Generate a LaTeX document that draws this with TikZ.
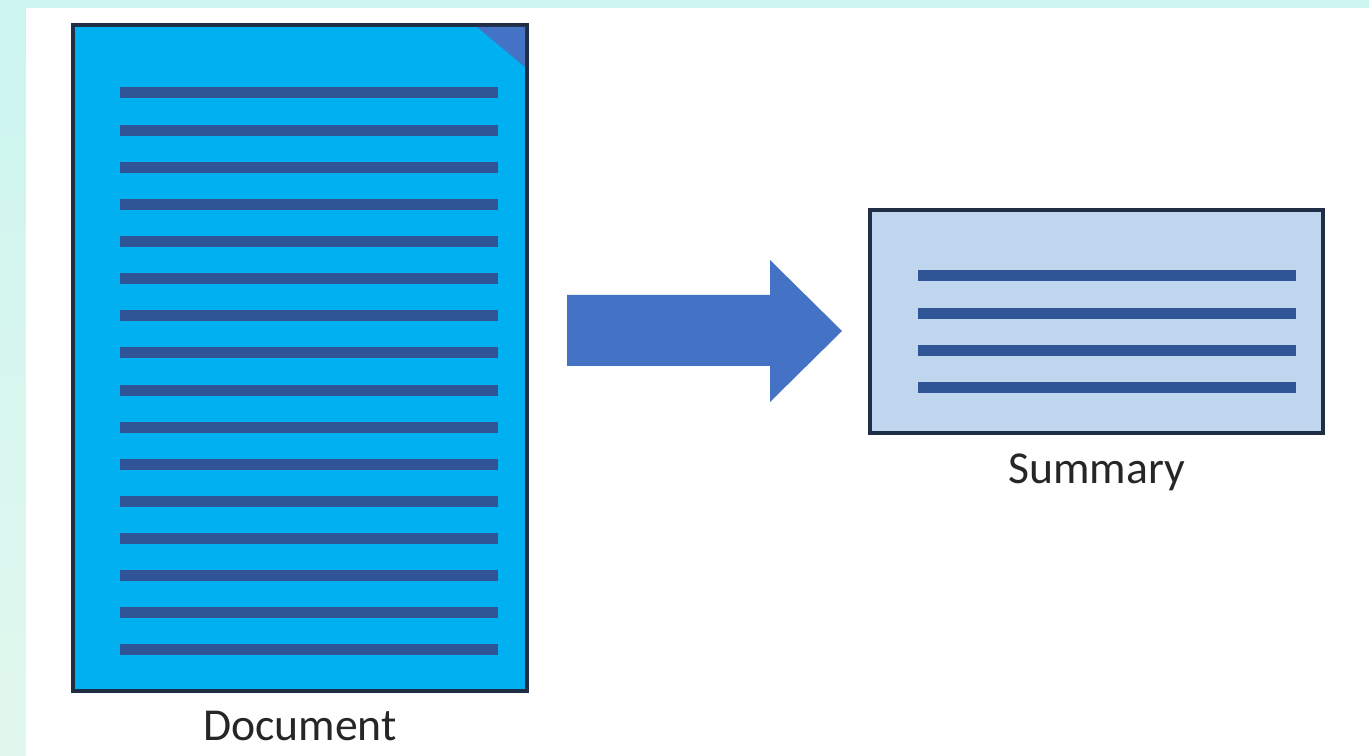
\documentclass[tikz,border=0pt]{standalone}
\usepackage{fontspec}
\setmainfont{Carlito}
\usepackage{tikz}
\usetikzlibrary{positioning}

\definecolor{bgcyan}{HTML}{CCF5F0}
\definecolor{bggreen}{HTML}{E2F8EE}
\definecolor{pageblue}{HTML}{00B0F0}
\definecolor{lineblue}{HTML}{2F5597}
\definecolor{arrowblue}{HTML}{4472C4}
\definecolor{sumblue}{HTML}{C0D6EE}
\definecolor{edgedark}{HTML}{1F2E45}

\tikzset{
  textline/.style={lineblue, line width=0.22cm},
  page/.style={draw=edgedark, line width=1.8pt, fill=pageblue, inner sep=0pt},
  sumpage/.style={draw=edgedark, line width=1.8pt, fill=sumblue, inner sep=0pt},
  caption/.style={text=black!85, font=\fontsize{26}{30}\selectfont, inner sep=2pt}
}

\begin{document}
\begin{tikzpicture}[x=0.02cm, y=-0.02cm]
  % Draw the background
  \fill[bgcyan] (0,0) rectangle (1369,756);
  \shade[top color=bgcyan, bottom color=bggreen] (0,8) rectangle (26,756);
  \fill[white] (26,8) rectangle (1369,756);
  \useasboundingbox (0,0) rectangle (1369,756);

  % Draw the document
  \node[page, minimum width=9.08cm, minimum height=13.32cm] (doc) at (300,358) {};
  \foreach \i in {0,...,15} {
    \draw[textline] (120,{93+37.13*\i}) -- (498,{93+37.13*\i});
  }
  \fill[arrowblue] (477,27) -- (525,27) -- (525,67) -- cycle;
  \node[caption, below=0.30cm of doc] (doclabel) {Document};

  % Draw the big arrow
  \fill[arrowblue] (567,295) -- (770,295) -- (770,260) -- (842,331)
    -- (770,402) -- (770,366) -- (567,366) -- cycle;

  % Draw the summary
  \node[sumpage, minimum width=9.06cm, minimum height=4.46cm] (sum) at (1096.5,321.5) {};
  \foreach \i in {0,...,3} {
    \draw[textline] (918,{276+37.2*\i}) -- (1296,{276+37.2*\i});
  }
  \node[caption, below=0.30cm of sum] (sumlabel) {Summary};
\end{tikzpicture}
\end{document}
